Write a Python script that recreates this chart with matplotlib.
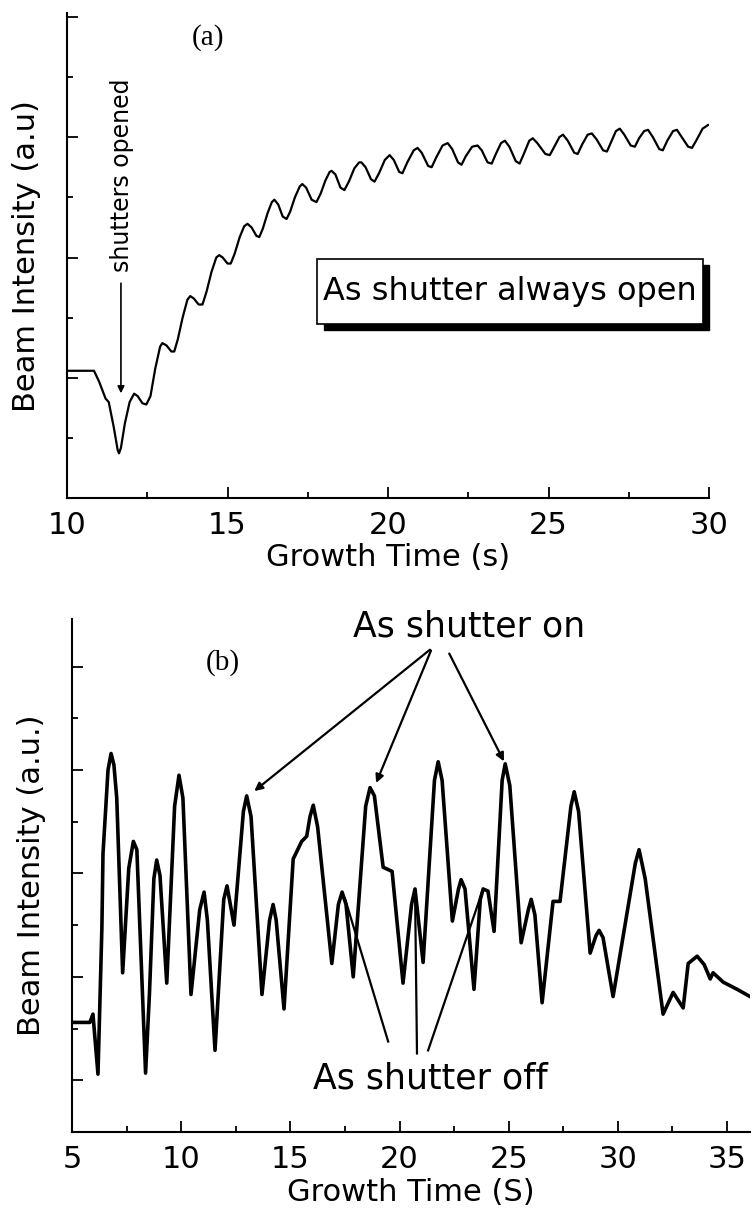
import numpy as np
import matplotlib.pyplot as plt
from matplotlib.patches import Rectangle
from matplotlib.ticker import MultipleLocator

plt.rcParams['font.family'] = ['DejaVu Sans']

# panel (a): shutter always open
time_a = [10.0, 10.5, 10.84, 11.0, 11.2, 11.3, 11.45, 11.58, 11.62, 11.68, 11.8, 11.95,
          12.09, 12.2, 12.35, 12.47, 12.6, 12.75, 12.9, 12.97, 13.1, 13.25, 13.34, 13.45,
          13.6, 13.75, 13.84, 13.95, 14.1, 14.22, 14.35, 14.5, 14.65, 14.74, 14.85, 15.0,
          15.1, 15.22, 15.38, 15.52, 15.62, 15.75, 15.9, 15.99, 16.1, 16.25, 16.38, 16.46,
          16.58, 16.72, 16.84, 16.95, 17.1, 17.25, 17.33, 17.45, 17.62, 17.77, 17.9, 18.05,
          18.18, 18.24, 18.36, 18.52, 18.64, 18.78, 18.95, 19.1, 19.17, 19.3, 19.47, 19.58,
          19.72, 19.9, 20.05, 20.18, 20.35, 20.45, 20.6, 20.8, 20.92, 21.05, 21.25, 21.36,
          21.5, 21.7, 21.86, 22.0, 22.18, 22.29, 22.42, 22.62, 22.79, 22.92, 23.1, 23.23,
          23.36, 23.52, 23.64, 23.78, 23.98, 24.1, 24.23, 24.4, 24.51, 24.65, 24.9, 25.04,
          25.18, 25.34, 25.45, 25.6, 25.8, 25.91, 26.05, 26.22, 26.35, 26.5, 26.7, 26.82,
          26.95, 27.1, 27.22, 27.36, 27.56, 27.69, 27.82, 27.98, 28.1, 28.25, 28.45, 28.56,
          28.7, 28.88, 29.0, 29.15, 29.35, 29.47, 29.62, 29.8, 29.97]
intensity_a = [1.06, 1.06, 1.06, 0.97, 0.83, 0.80, 0.60, 0.40, 0.375, 0.42, 0.62, 0.80,
               0.87, 0.85, 0.79, 0.78, 0.85, 1.08, 1.26, 1.29, 1.27, 1.22, 1.22, 1.32,
               1.50, 1.65, 1.68, 1.66, 1.61, 1.61, 1.72, 1.88, 2.00, 2.02, 2.00, 1.95,
               1.95, 2.03, 2.17, 2.26, 2.28, 2.25, 2.18, 2.17, 2.24, 2.37, 2.46, 2.48,
               2.44, 2.34, 2.32, 2.38, 2.50, 2.59, 2.61, 2.58, 2.48, 2.46, 2.53, 2.64,
               2.71, 2.72, 2.69, 2.58, 2.56, 2.63, 2.74, 2.79, 2.79, 2.75, 2.65, 2.63,
               2.70, 2.81, 2.85, 2.81, 2.71, 2.70, 2.79, 2.89, 2.91, 2.87, 2.76, 2.75,
               2.83, 2.93, 2.95, 2.90, 2.79, 2.77, 2.84, 2.92, 2.93, 2.89, 2.79, 2.78,
               2.86, 2.95, 2.97, 2.92, 2.80, 2.78, 2.86, 2.97, 2.99, 2.95, 2.86, 2.85,
               2.92, 3.00, 3.02, 2.97, 2.87, 2.86, 2.94, 3.02, 3.03, 2.98, 2.89, 2.88,
               2.96, 3.05, 3.07, 3.02, 2.93, 2.92, 2.99, 3.05, 3.06, 3.00, 2.90, 2.89,
               2.97, 3.05, 3.06, 3.00, 2.92, 2.91, 2.98, 3.07, 3.10]

# panel (b): shutter toggled
time_b = [5.0, 5.82, 5.96, 6.19, 6.37, 6.42, 6.65, 6.79, 6.92, 7.05, 7.32, 7.6, 7.81,
          7.97, 8.37, 8.55, 8.75, 8.88, 9.03, 9.34, 9.7, 9.9, 10.08, 10.45, 10.85, 11.05,
          11.2, 11.55, 11.95, 12.1, 12.42, 12.85, 13.0, 13.2, 13.7, 14.05, 14.21, 14.35,
          14.71, 15.13, 15.52, 15.75, 15.9, 16.05, 16.25, 16.9, 17.2, 17.37, 17.55, 17.88,
          18.45, 18.65, 18.85, 19.25, 19.66, 20.16, 20.55, 20.71, 21.08, 21.6, 21.77, 21.95,
          22.42, 22.7, 22.82, 23.0, 23.41, 23.7, 23.83, 24.05, 24.33, 24.7, 24.84, 25.05,
          25.57, 25.9, 26.03, 26.2, 26.53, 27.03, 27.35, 27.85, 28.0, 28.2, 28.73, 29.0,
          29.14, 29.32, 29.78, 30.8, 30.97, 31.25, 32.07, 32.53, 32.99, 33.22, 33.63,
          33.95, 34.23, 34.36, 34.82, 35.46, 36.05]
intensity_b = [1.06, 1.06, 1.14, 0.56, 1.98, 2.69, 3.50, 3.66, 3.55, 3.23, 1.54, 2.55,
               2.81, 2.73, 0.57, 1.35, 2.45, 2.63, 2.48, 1.44, 3.15, 3.45, 3.23, 1.33,
               2.15, 2.32, 2.05, 0.79, 2.25, 2.38, 2.00, 3.10, 3.25, 3.05, 1.33, 2.05,
               2.20, 2.05, 1.19, 2.64, 2.81, 2.86, 3.05, 3.16, 2.95, 1.63, 2.20, 2.32,
               2.20, 1.50, 3.15, 3.33, 3.25, 2.56, 2.52, 1.44, 2.20, 2.35, 1.64, 3.40,
               3.58, 3.40, 2.04, 2.35, 2.44, 2.35, 1.38, 2.25, 2.35, 2.33, 1.94, 3.40,
               3.56, 3.35, 1.83, 2.15, 2.25, 2.10, 1.25, 2.23, 2.23, 3.15, 3.29, 3.10,
               1.73, 1.90, 1.95, 1.88, 1.31, 2.60, 2.73, 2.45, 1.14, 1.35, 1.20, 1.63,
               1.70, 1.62, 1.48, 1.54, 1.45, 1.38, 1.31]

fig = plt.figure(figsize=(7.53, 12.14), dpi=100)
ax1 = fig.add_axes([0.089, 0.5894, 0.8526, 0.3999])
ax2 = fig.add_axes([0.0956, 0.0675, 0.9004, 0.4226])

for ax in (ax1, ax2):
    ax.spines['top'].set_visible(False)
    ax.spines['right'].set_visible(False)
    ax.spines['left'].set_linewidth(1.5)
    ax.spines['bottom'].set_linewidth(1.5)
    ax.tick_params(which='both', direction='in', width=1.3, labelsize=22, left=True, pad=9)
    ax.tick_params(which='major', length=8)
    ax.tick_params(which='minor', length=4)
    ax.xaxis.set_minor_locator(MultipleLocator(2.5))
    ax.xaxis.set_major_locator(MultipleLocator(5))

# ---- panel (a)
ax1.plot(time_a, intensity_a, color='black', lw=1.6)
ax1.set_xlim(10, 30)
ax1.set_ylim(0, 4.03)
ax1.yaxis.set_major_locator(MultipleLocator(1))
ax1.yaxis.set_minor_locator(MultipleLocator(0.5))
ax1.set_yticklabels([])
ax1.set_xlabel('Growth Time (s)', fontsize=22, labelpad=2)
ax1.set_ylabel('Beam Intensity (a.u)', fontsize=22, labelpad=10)
ax1.text(14.4, 3.83, '(a)', fontsize=21, family='Liberation Serif', ha='center', va='center')
ax1.text(11.72, 2.68, 'shutters opened', fontsize=17, rotation=90, ha='center', va='center')
ax1.annotate('', xy=(11.68, 0.85), xytext=(11.68, 1.81),
             arrowprops=dict(arrowstyle='-|>', color='black', lw=1.2, mutation_scale=10))
ax1.add_patch(Rectangle((18.0, 1.40), 12.0, 0.54, facecolor='black', edgecolor='black',
                        clip_on=False, zorder=3))
ax1.add_patch(Rectangle((17.8, 1.45), 12.0, 0.54, facecolor='white', edgecolor='black',
                        lw=1.2, clip_on=False, zorder=4))
ax1.text(23.8, 1.72, 'As shutter always open', fontsize=23, ha='center', va='center', zorder=5)

# ---- panel (b)
ax2.plot(time_b, intensity_b, color='black', lw=2.6)
ax2.set_xlim(5, 36.05)
ax2.set_ylim(0, 4.96)
ax2.set_yticks([0.5, 1.5, 2.5, 3.5, 4.5])
ax2.yaxis.set_minor_locator(MultipleLocator(1))
ax2.set_yticklabels([])
ax2.set_xlabel('Growth Time (S)', fontsize=22, labelpad=3)
ax2.set_ylabel('Beam Intensity (a.u.)', fontsize=22, labelpad=10)
ax2.text(11.93, 4.54, '(b)', fontsize=21, family='Liberation Serif', ha='center', va='center')
ax2.text(23.2, 4.89, 'As shutter on', fontsize=25, ha='center', va='center')
on_arrows = [((13.25, 3.28), (21.49, 4.68)),
             ((18.88, 3.35), (21.49, 4.68)),
             ((24.84, 3.56), (22.22, 4.65))]
for tip, tail in on_arrows:
    ax2.annotate('', xy=tip, xytext=tail,
                 arrowprops=dict(arrowstyle='-|>', color='black', lw=1.6, mutation_scale=12))
ax2.text(21.4, 0.52, 'As shutter off', fontsize=25, ha='center', va='center')
off_lines = [((17.5, 2.26), (19.48, 0.875)),
             ((20.71, 2.35), (20.8, 0.76)),
             ((23.83, 2.35), (21.31, 0.79))]
for tip, tail in off_lines:
    ax2.plot([tail[0], tip[0]], [tail[1], tip[1]], color='black', lw=1.6)

fig.savefig('out.png', dpi=100)
